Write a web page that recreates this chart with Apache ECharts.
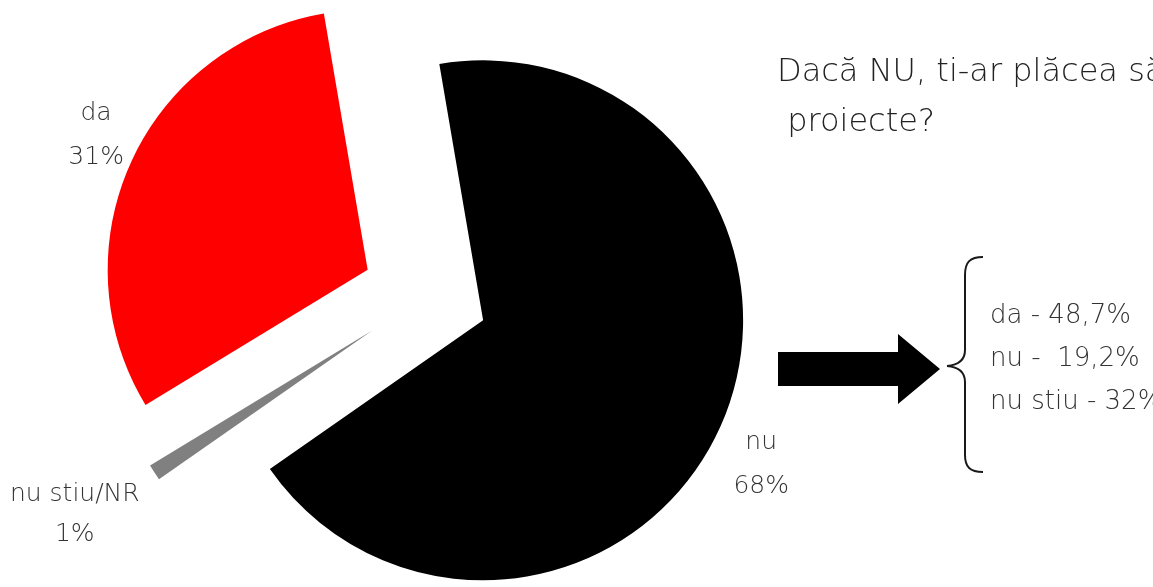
<!DOCTYPE html>
<html>
<head>
<meta charset="utf-8">
<script src="https://cdn.jsdelivr.net/npm/echarts@6/dist/echarts.min.js"></script>
<style>
html,body{margin:0;padding:0;background:#fff;}
#main{width:1153px;height:587px;}
</style>
</head>
<body>
<div id="main"></div>
<script>
// ---- data ----
const categories = ['nu', 'nu stiu/NR', 'da'];
const values = [68, 1, 31];
const colors = ['#000000', '#808080', '#ff0000'];
const titleLines = ['Dacă NU, ti-ar plăcea să', ' proiecte?'];
const followLabels = ['da', 'nu', 'nu stiu'];
const followValues = ['48,7%', ' 19,2%', '32%'];

// label nudges (styling only)
const labelNudge = [{dx: -23, dy: 36}, {dx: 17, dy: 31}, {dx: 26, dy: -18}];

const FONT = '"DejaVu Sans", sans-serif';
const chart = echarts.init(document.getElementById('main'), null, {renderer: 'canvas'});

const pieData = categories.map((c, i) => ({
  name: c,
  value: values[i],
  selected: true,
  itemStyle: {color: colors[i]},
  label: {lineHeight: i === 1 ? 40 : 44}
}));

const followText = followLabels.map((l, i) => l + ' - ' + followValues[i]).join('\n');
const braceStyle = {stroke: '#1a1a1a', lineWidth: 2, fill: 'none'};

chart.setOption({
  animation: false,
  backgroundColor: '#ffffff',
  series: [{
    type: 'pie',
    center: [425, 296],
    radius: 260,
    startAngle: 99.7,
    clockwise: true,
    selectedMode: 'multiple',
    selectedOffset: 63,
    avoidLabelOverlap: false,
    emphasis: {disabled: true},
    label: {
      show: true,
      position: 'outside',
      formatter: '{b}\n{d}%',
      fontFamily: FONT,
      fontWeight: 200,
      fontSize: 25,
      color: '#333333'
    },
    labelLine: {show: false, length: 20, length2: 10},
    labelLayout: function (p) {
      const w = p.labelRect.width;
      const base = p.align === 'right' ? -w / 2 : (p.align === 'left' ? w / 2 : 0);
      const n = labelNudge[p.dataIndex] || {dx: 0, dy: 0};
      return {align: 'center', dx: base + n.dx, dy: n.dy};
    },
    data: pieData
  }],
  graphic: [
    {
      type: 'text', x: 777, y: 48,
      style: {text: titleLines.join('\n'), font: '200 32px ' + FONT, fill: '#222222', lineHeight: 50}
    },
    {
      type: 'polygon',
      shape: {points: [[778, 352], [898, 352], [898, 334], [940, 369], [898, 404], [898, 386], [778, 386]]},
      style: {fill: '#000'}
    },
    {type: 'bezierCurve', shape: {x1: 983, y1: 257, cpx1: 970, cpy1: 257, cpx2: 965, cpy2: 262, x2: 965, y2: 275}, style: braceStyle},
    {type: 'line', shape: {x1: 965, y1: 275, x2: 965, y2: 350}, style: braceStyle},
    {type: 'bezierCurve', shape: {x1: 965, y1: 350, cpx1: 965, cpy1: 360, cpx2: 958, cpy2: 365, x2: 947, y2: 366}, style: braceStyle},
    {type: 'bezierCurve', shape: {x1: 947, y1: 366, cpx1: 958, cpy1: 367, cpx2: 965, cpy2: 372, x2: 965, y2: 382}, style: braceStyle},
    {type: 'line', shape: {x1: 965, y1: 382, x2: 965, y2: 455}, style: braceStyle},
    {type: 'bezierCurve', shape: {x1: 965, y1: 455, cpx1: 965, cpy1: 467, cpx2: 970, cpy2: 472, x2: 983, y2: 472}, style: braceStyle},
    {
      type: 'text', x: 990, y: 295,
      style: {text: followText, font: '200 26px ' + FONT, fill: '#333333', lineHeight: 43}
    }
  ]
});
</script>
</body>
</html>
